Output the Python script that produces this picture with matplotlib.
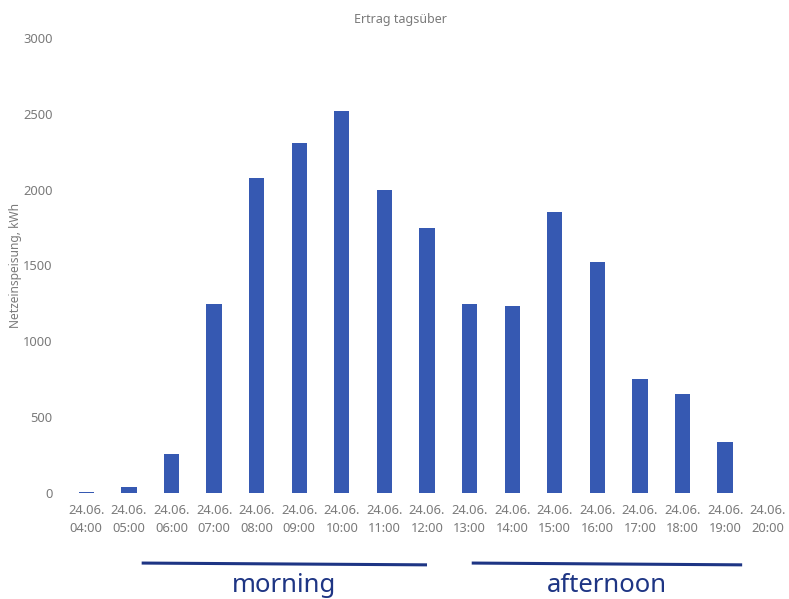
import matplotlib
matplotlib.use("Agg")
import matplotlib.pyplot as plt
import matplotlib.transforms as mtransforms

# Hourly grid feed-in on 24.06.
hours = ["04:00", "05:00", "06:00", "07:00", "08:00", "09:00", "10:00", "11:00",
         "12:00", "13:00", "14:00", "15:00", "16:00", "17:00", "18:00", "19:00", "20:00"]
date = "24.06."
feed_in_kwh = [5, 40, 255, 1245, 2080, 2310, 2520, 2000,
               1750, 1245, 1235, 1850, 1525, 750, 655, 335, 3]
y_ticks = [0, 500, 1000, 1500, 2000, 2500, 3000]

# Day-part brackets: (label, first index, last index)
periods = [("morning", 1.3, 8.0), ("afternoon", 9.05, 15.4)]

bar_color = "#3659b2"
label_gray = "#7a7a7a"
accent = "#1e3584"

plt.rcParams["font.family"] = ["Noto Sans", "DejaVu Sans"]

fig = plt.figure(figsize=(7.89, 5.99), dpi=100)
ax = fig.add_axes([0.0824, 0.177, 0.9176, 0.7596])

x = list(range(len(hours)))
ax.bar(x, feed_in_kwh, width=0.36, color=bar_color)

ax.set_xlim(-0.5, len(hours) - 0.5)
ax.set_ylim(0, 3000)
ax.set_yticks(y_ticks)
ax.set_yticklabels([str(v) for v in y_ticks])
ax.set_xticks(x)
ax.set_xticklabels([f"{date}\n{h}" for h in hours], linespacing=1.45)
ax.tick_params(axis="both", length=0, colors=label_gray, labelsize=9.3)
ax.tick_params(axis="y", pad=9)
ax.tick_params(axis="x", pad=8)
for s in ax.spines.values():
    s.set_visible(False)

ax.set_ylabel("Netzeinspeisung, kWh", color=label_gray, fontsize=8.6)
ax.yaxis.set_label_coords(-0.060, 0.5)
fig.text(0.507, 0.968, "Ertrag tagsüber", ha="center", va="center",
         color=label_gray, fontsize=9.0)

# Brackets below the time axis
trans = mtransforms.blended_transform_factory(ax.transData, fig.transFigure)
for name, start, end in periods:
    ax.plot([start, end], [0.060, 0.057], transform=trans, color=accent,
            lw=2.2, clip_on=False, solid_capstyle="butt")
    ax.text((start + end) / 2, 0.023, name, transform=trans, ha="center",
            va="center", color=accent, fontsize=18.5)

fig.savefig("out.png", dpi=100, facecolor="white")
